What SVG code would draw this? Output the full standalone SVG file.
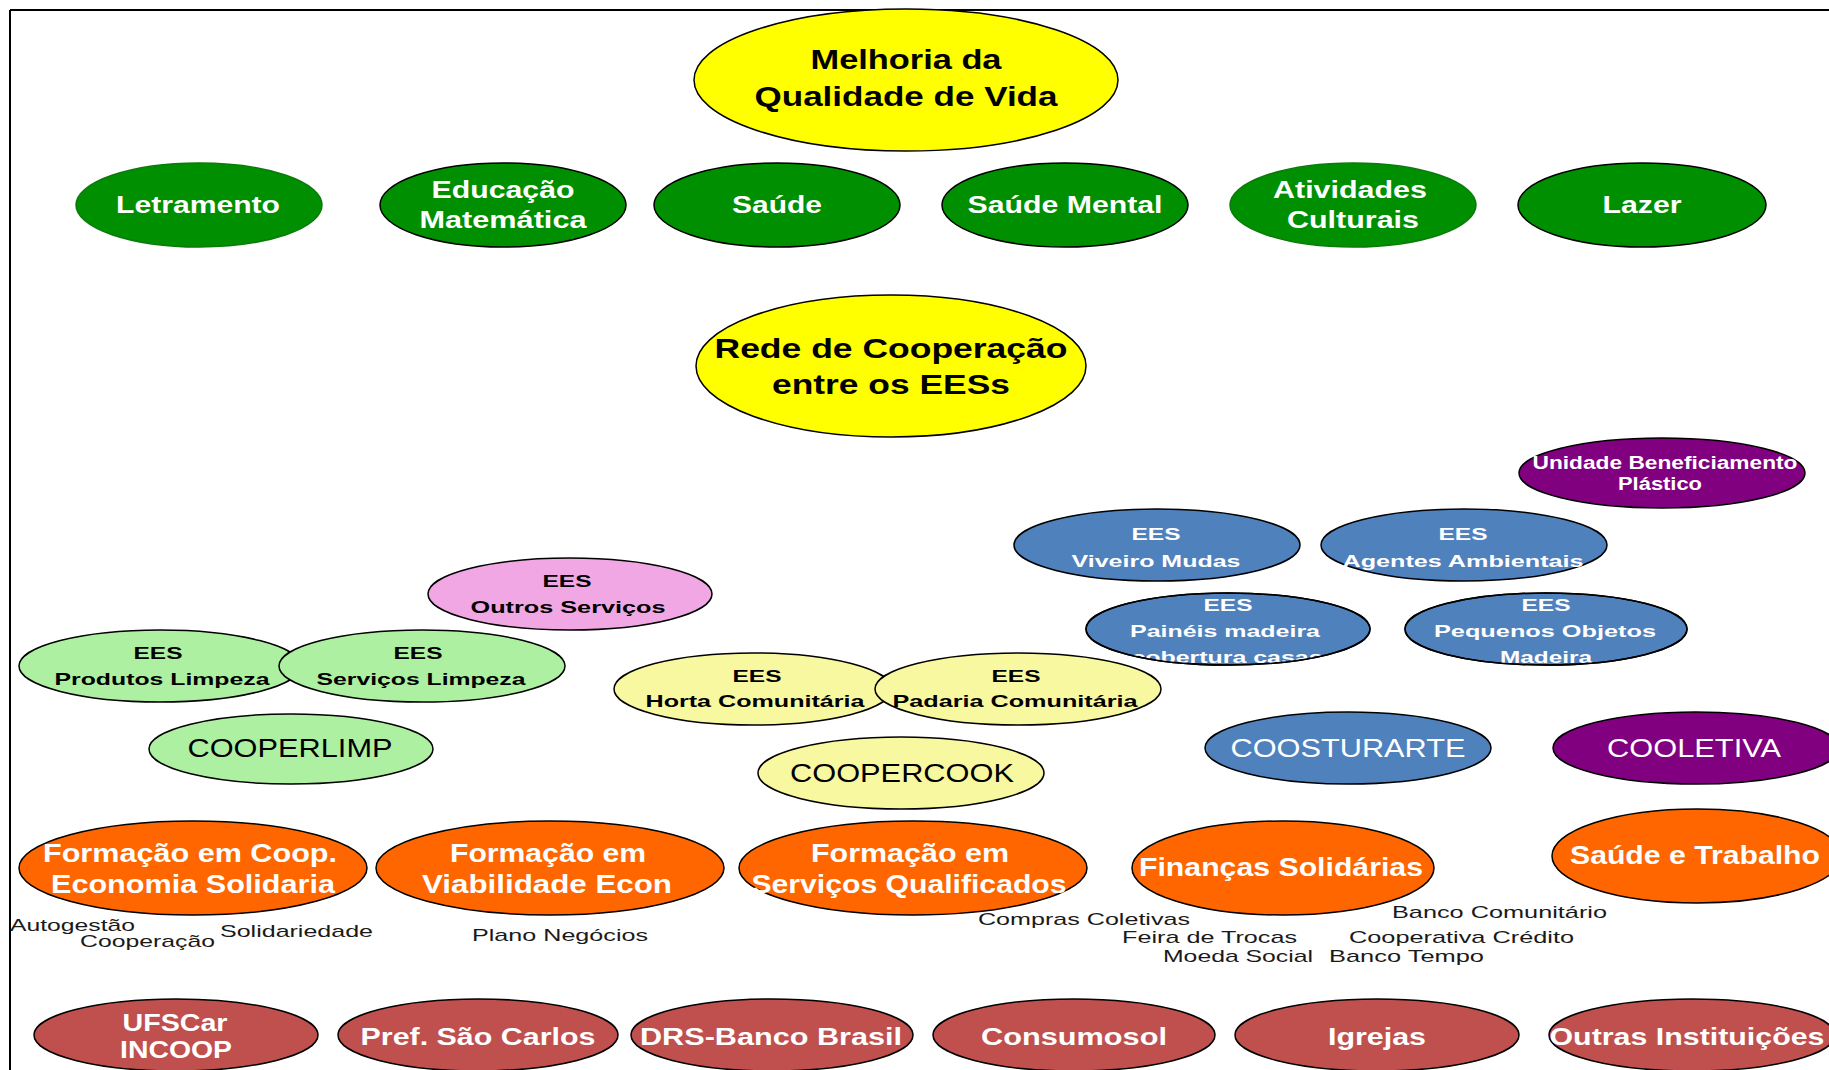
<svg xmlns="http://www.w3.org/2000/svg" width="1829" height="1070" viewBox="0 0 1829 1070">
<style>
.e{stroke:#000;stroke-width:1.5}
.t{font-family:"Liberation Sans",Arial,sans-serif;font-weight:bold;text-anchor:middle}
.r{font-family:"Liberation Sans",Arial,sans-serif;font-weight:normal;text-anchor:middle}
.w{fill:#fff}
.k{fill:#000}
.s{font-family:"Liberation Sans",Arial,sans-serif;font-size:17px;fill:#1a1a1a}
.yel{fill:#FFFF00}
.grn{fill:#008F00}
.lg{fill:#AEF0A2}
.pk{fill:#F2A7E5}
.ly{fill:#F8F8A0}
.bl{fill:#4F81BD}
.pu{fill:#800080}
.or{fill:#FF6600}
.rd{fill:#C0504D}
</style>
<defs>
<clipPath id="cpPaineis"><ellipse cx="1228" cy="629" rx="142" ry="36"/></clipPath>
<clipPath id="cpPequenos"><ellipse cx="1546" cy="629" rx="141" ry="36"/></clipPath>
</defs>
<rect width="1829" height="1070" fill="#fff"/>
<g id="frame" stroke="#000" stroke-width="2" fill="none">
<line x1="10" y1="10" x2="1829" y2="10"/>
<line x1="10" y1="10" x2="10" y2="1070"/>
</g>
<g id="connectors"></g>

<g id="melhoria">
<ellipse class="e yel" cx="906" cy="80" rx="212" ry="71"/>
<text class="t k" font-size="28" x="906" y="69" textLength="191" lengthAdjust="spacingAndGlyphs">Melhoria da</text>
<text class="t k" font-size="28" x="906" y="106" textLength="303" lengthAdjust="spacingAndGlyphs">Qualidade de Vida</text>
</g>

<g id="letramento">
<ellipse cx="199" cy="205" rx="123" ry="42" class="grn" stroke="#0a7a0a" stroke-width="1.5"/>
<text class="t w" font-size="24" x="198" y="213" textLength="164" lengthAdjust="spacingAndGlyphs">Letramento</text>
</g>
<g id="educacao">
<ellipse class="e grn" cx="503" cy="205" rx="123" ry="42"/>
<text class="t w" font-size="24" x="503" y="198" textLength="143" lengthAdjust="spacingAndGlyphs">Educação</text>
<text class="t w" font-size="24" x="503" y="228" textLength="167" lengthAdjust="spacingAndGlyphs">Matemática</text>
</g>
<g id="saude">
<ellipse class="e grn" cx="777" cy="205" rx="123" ry="42"/>
<text class="t w" font-size="24" x="777" y="213" textLength="90" lengthAdjust="spacingAndGlyphs">Saúde</text>
</g>
<g id="saudemental">
<ellipse class="e grn" cx="1065" cy="205" rx="123" ry="42"/>
<text class="t w" font-size="24" x="1065" y="213" textLength="195" lengthAdjust="spacingAndGlyphs">Saúde Mental</text>
</g>
<g id="atividades">
<ellipse cx="1353" cy="205" rx="123" ry="42" class="grn" stroke="#0a7a0a" stroke-width="1.5"/>
<text class="t w" font-size="24" x="1350" y="198" textLength="154" lengthAdjust="spacingAndGlyphs">Atividades</text>
<text class="t w" font-size="24" x="1353" y="228" textLength="132" lengthAdjust="spacingAndGlyphs">Culturais</text>
</g>
<g id="lazer">
<ellipse class="e grn" cx="1642" cy="205" rx="124" ry="42"/>
<text class="t w" font-size="24" x="1642" y="213" textLength="79" lengthAdjust="spacingAndGlyphs">Lazer</text>
</g>

<g id="rede">
<ellipse class="e yel" cx="891" cy="366" rx="195" ry="71"/>
<text class="t k" font-size="28" x="891" y="358" textLength="353" lengthAdjust="spacingAndGlyphs">Rede de Cooperação</text>
<text class="t k" font-size="28" x="891" y="394" textLength="238" lengthAdjust="spacingAndGlyphs">entre os EESs</text>
</g>

<g id="unidade">
<ellipse class="e pu" cx="1662" cy="473" rx="143" ry="35"/>
<text class="t w" font-size="18" x="1665" y="469" textLength="265" lengthAdjust="spacingAndGlyphs">Unidade Beneficiamento</text>
<text class="t w" font-size="18" x="1660" y="490" textLength="84" lengthAdjust="spacingAndGlyphs">Plástico</text>
</g>

<g id="viveiro">
<ellipse class="e bl" cx="1157" cy="545" rx="143" ry="36"/>
<text class="t w" font-size="17" x="1156" y="540" textLength="49" lengthAdjust="spacingAndGlyphs">EES</text>
<text class="t w" font-size="17" x="1156" y="567" textLength="169" lengthAdjust="spacingAndGlyphs">Viveiro Mudas</text>
</g>
<g id="agentes">
<ellipse class="e bl" cx="1464" cy="545" rx="143" ry="36"/>
<text class="t w" font-size="17" x="1463" y="540" textLength="49" lengthAdjust="spacingAndGlyphs">EES</text>
<text class="t w" font-size="17" x="1463" y="567" textLength="241" lengthAdjust="spacingAndGlyphs">Agentes Ambientais</text>
</g>
<g id="paineis">
<ellipse class="e bl" cx="1228" cy="629" rx="142" ry="36"/>
<g clip-path="url(#cpPaineis)">
<text class="t w" font-size="17" x="1228" y="611" textLength="49" lengthAdjust="spacingAndGlyphs">EES</text>
<text class="t w" font-size="17" x="1225" y="637" textLength="190" lengthAdjust="spacingAndGlyphs">Painéis madeira</text>
<text class="t w" font-size="17" x="1227" y="663" textLength="191" lengthAdjust="spacingAndGlyphs">cobertura casas</text>
</g>
<ellipse cx="1228" cy="629" rx="142" ry="36" fill="none" stroke="#000" stroke-width="1.5"/>
</g>
<g id="pequenos">
<ellipse class="e bl" cx="1546" cy="629" rx="141" ry="36"/>
<g clip-path="url(#cpPequenos)">
<text class="t w" font-size="17" x="1546" y="611" textLength="49" lengthAdjust="spacingAndGlyphs">EES</text>
<text class="t w" font-size="17" x="1545" y="637" textLength="222" lengthAdjust="spacingAndGlyphs">Pequenos Objetos</text>
<text class="t w" font-size="17" x="1546" y="663" textLength="92" lengthAdjust="spacingAndGlyphs">Madeira</text>
</g>
<ellipse cx="1546" cy="629" rx="141" ry="36" fill="none" stroke="#000" stroke-width="1.5"/>
</g>

<g id="outros">
<ellipse class="e pk" cx="570" cy="594" rx="142" ry="36"/>
<text class="t k" font-size="17" x="567" y="587" textLength="49" lengthAdjust="spacingAndGlyphs">EES</text>
<text class="t k" font-size="17" x="568" y="613" textLength="195" lengthAdjust="spacingAndGlyphs">Outros Serviços</text>
</g>
<g id="produtos">
<ellipse class="e lg" cx="160" cy="666" rx="141" ry="36"/>
<text class="t k" font-size="17" x="158" y="659" textLength="49" lengthAdjust="spacingAndGlyphs">EES</text>
<text class="t k" font-size="17" x="162" y="685" textLength="215" lengthAdjust="spacingAndGlyphs">Produtos Limpeza</text>
</g>
<g id="servicoslimpeza">
<ellipse class="e lg" cx="422" cy="666" rx="143" ry="36"/>
<text class="t k" font-size="17" x="418" y="659" textLength="49" lengthAdjust="spacingAndGlyphs">EES</text>
<text class="t k" font-size="17" x="421" y="685" textLength="209" lengthAdjust="spacingAndGlyphs">Serviços Limpeza</text>
</g>
<g id="cooperlimp">
<ellipse class="e lg" cx="291" cy="749" rx="142" ry="35"/>
<text class="r k" font-size="25" x="290" y="757" textLength="205" lengthAdjust="spacingAndGlyphs">COOPERLIMP</text>
</g>
<g id="horta">
<ellipse class="e ly" cx="753" cy="689" rx="139" ry="36"/>
<text class="t k" font-size="17" x="757" y="682" textLength="49" lengthAdjust="spacingAndGlyphs">EES</text>
<text class="t k" font-size="17" x="755" y="707" textLength="219" lengthAdjust="spacingAndGlyphs">Horta Comunitária</text>
</g>
<g id="padaria">
<ellipse class="e ly" cx="1018" cy="689" rx="143" ry="36"/>
<text class="t k" font-size="17" x="1016" y="682" textLength="49" lengthAdjust="spacingAndGlyphs">EES</text>
<text class="t k" font-size="17" x="1015" y="707" textLength="245" lengthAdjust="spacingAndGlyphs">Padaria Comunitária</text>
</g>
<g id="coopercook">
<ellipse class="e ly" cx="901" cy="773" rx="143" ry="36"/>
<text class="r k" font-size="25" x="902" y="782" textLength="224" lengthAdjust="spacingAndGlyphs">COOPERCOOK</text>
</g>
<g id="coosturarte">
<ellipse class="e bl" cx="1348" cy="748" rx="143" ry="36"/>
<text class="r w" font-size="25" x="1348" y="757" textLength="235" lengthAdjust="spacingAndGlyphs">COOSTURARTE</text>
</g>
<g id="cooletiva">
<ellipse class="e pu" cx="1696" cy="748" rx="143" ry="36"/>
<text class="r w" font-size="25" x="1694" y="757" textLength="174" lengthAdjust="spacingAndGlyphs">COOLETIVA</text>
</g>

<g id="formacaocoop">
<ellipse class="e or" cx="193" cy="868" rx="174" ry="47"/>
<text class="t w" font-size="25" x="190" y="862" textLength="294" lengthAdjust="spacingAndGlyphs">Formação em Coop.</text>
<text class="t w" font-size="25" x="193" y="893" textLength="284" lengthAdjust="spacingAndGlyphs">Economia Solidaria</text>
</g>
<g id="formacaoviab">
<ellipse class="e or" cx="550" cy="868" rx="174" ry="47"/>
<text class="t w" font-size="25" x="548" y="862" textLength="196" lengthAdjust="spacingAndGlyphs">Formação em</text>
<text class="t w" font-size="25" x="547" y="893" textLength="250" lengthAdjust="spacingAndGlyphs">Viabilidade Econ</text>
</g>
<g id="formacaoserv">
<ellipse class="e or" cx="913" cy="868" rx="174" ry="47"/>
<text class="t w" font-size="25" x="910" y="862" textLength="198" lengthAdjust="spacingAndGlyphs">Formação em</text>
<text class="t w" font-size="25" x="909" y="893" textLength="315" lengthAdjust="spacingAndGlyphs">Serviços Qualificados</text>
</g>
<g id="financas">
<ellipse class="e or" cx="1283" cy="868" rx="151" ry="47"/>
<text class="t w" font-size="25" x="1281" y="876" textLength="284" lengthAdjust="spacingAndGlyphs">Finanças Solidárias</text>
</g>
<g id="saudetrabalho">
<ellipse class="e or" cx="1697" cy="856" rx="145" ry="47"/>
<text class="t w" font-size="25" x="1695" y="864" textLength="250" lengthAdjust="spacingAndGlyphs">Saúde e Trabalho</text>
</g>

<g id="labels">
<text class="s" x="10" y="931" textLength="125" lengthAdjust="spacingAndGlyphs">Autogestão</text>
<text class="s" x="80" y="947" textLength="135" lengthAdjust="spacingAndGlyphs">Cooperação</text>
<text class="s" x="220" y="937" textLength="153" lengthAdjust="spacingAndGlyphs">Solidariedade</text>
<text class="s" x="472" y="941" textLength="176" lengthAdjust="spacingAndGlyphs">Plano Negócios</text>
<text class="s" x="978" y="925" textLength="212" lengthAdjust="spacingAndGlyphs">Compras Coletivas</text>
<text class="s" x="1122" y="943" textLength="175" lengthAdjust="spacingAndGlyphs">Feira de Trocas</text>
<text class="s" x="1163" y="962" textLength="150" lengthAdjust="spacingAndGlyphs">Moeda Social</text>
<text class="s" x="1392" y="918" textLength="215" lengthAdjust="spacingAndGlyphs">Banco Comunitário</text>
<text class="s" x="1349" y="943" textLength="225" lengthAdjust="spacingAndGlyphs">Cooperativa Crédito</text>
<text class="s" x="1329" y="962" textLength="155" lengthAdjust="spacingAndGlyphs">Banco Tempo</text>
</g>

<g id="ufscar">
<ellipse class="e rd" cx="176" cy="1035" rx="142" ry="36"/>
<text class="t w" font-size="24" x="175" y="1031" textLength="105" lengthAdjust="spacingAndGlyphs">UFSCar</text>
<text class="t w" font-size="24" x="176" y="1058" textLength="112" lengthAdjust="spacingAndGlyphs">INCOOP</text>
</g>
<g id="pref">
<ellipse class="e rd" cx="478" cy="1035" rx="140" ry="36"/>
<text class="t w" font-size="24" x="478" y="1045" textLength="235" lengthAdjust="spacingAndGlyphs">Pref. São Carlos</text>
</g>
<g id="drs">
<ellipse class="e rd" cx="772" cy="1035" rx="141" ry="36"/>
<text class="t w" font-size="24" x="771" y="1045" textLength="262" lengthAdjust="spacingAndGlyphs">DRS-Banco Brasil</text>
</g>
<g id="consumosol">
<ellipse class="e rd" cx="1074" cy="1035" rx="141" ry="36"/>
<text class="t w" font-size="24" x="1074" y="1045" textLength="186" lengthAdjust="spacingAndGlyphs">Consumosol</text>
</g>
<g id="igrejas">
<ellipse class="e rd" cx="1377" cy="1035" rx="142" ry="36"/>
<text class="t w" font-size="24" x="1377" y="1045" textLength="98" lengthAdjust="spacingAndGlyphs">Igrejas</text>
</g>
<g id="outrasinst">
<ellipse class="e rd" cx="1692" cy="1035" rx="143" ry="36"/>
<text class="t w" font-size="24" x="1687" y="1045" textLength="275" lengthAdjust="spacingAndGlyphs">Outras Instituições</text>
</g>
</svg>
